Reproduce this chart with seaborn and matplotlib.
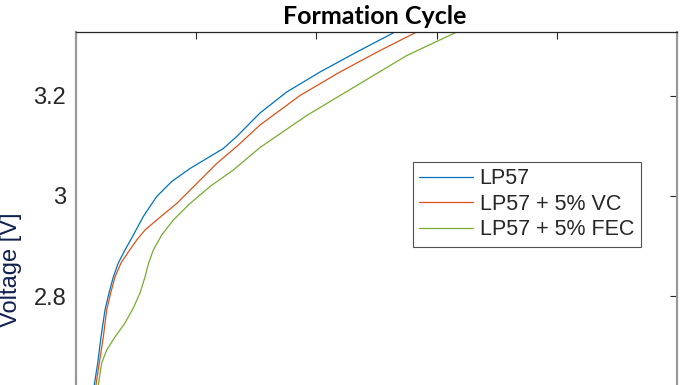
import matplotlib
matplotlib.use("Agg")
import matplotlib.pyplot as plt
import pandas as pd
import seaborn as sns

# Formation cycle voltage curves (x = capacity, arbitrary units 0-250)
lp57_x = [7.61, 9.03, 10.40, 12.06, 13.73, 15.52, 17.60, 20.38, 23.17, 28.0, 33.57, 39.81,
          47.42, 55.74, 61.27, 66.85, 76.54, 87.65, 101.5, 116.8, 132.7]
lp57_v = [2.622, 2.666, 2.718, 2.772, 2.806, 2.838, 2.866, 2.892, 2.916, 2.959, 2.999, 3.029,
          3.055, 3.079, 3.095, 3.119, 3.166, 3.208, 3.248, 3.288, 3.328]

vc_x = [8.32, 9.69, 11.36, 12.77, 14.43, 16.22, 18.72, 21.76, 25.25, 28.70, 33.57, 41.89,
        50.21, 58.53, 66.85, 76.54, 93.18, 109.8, 126.5, 141.7]
vc_v = [2.622, 2.666, 2.718, 2.772, 2.806, 2.838, 2.866, 2.888, 2.912, 2.932, 2.952, 2.985,
        3.025, 3.065, 3.099, 3.142, 3.201, 3.248, 3.291, 3.328]

fec_x = [9.28, 10.69, 12.77, 16.22, 20.38, 23.84, 26.62, 28.70, 30.08, 32.16, 35.65, 40.47,
         47.42, 55.74, 65.43, 76.54, 95.97, 116.8, 137.6, 158.4]
fec_v = [2.622, 2.666, 2.692, 2.718, 2.746, 2.776, 2.806, 2.838, 2.864, 2.892, 2.922, 2.952,
         2.985, 3.019, 3.052, 3.097, 3.161, 3.221, 3.281, 3.328]

labels = ["LP57", "LP57 + 5% VC", "LP57 + 5% FEC"]
colors = ["#0072BD", "#D95319", "#77AC30"]

df = pd.concat([
    pd.DataFrame({"x": lp57_x, "v": lp57_v, "cell": labels[0]}),
    pd.DataFrame({"x": vc_x, "v": vc_v, "cell": labels[1]}),
    pd.DataFrame({"x": fec_x, "v": fec_v, "cell": labels[2]}),
])

sns.set_style("white")
plt.rcParams["font.family"] = ["Liberation Sans", "DejaVu Sans"]

W, H = 696, 385
fig = plt.figure(figsize=(W / 100, H / 100), dpi=100)
# axes is cropped: bottom part lies outside the figure
ymin, ymax = 2.5, 3.328
ax_bottom_px = 96 + (3.2 - ymin) * 500
ax = fig.add_axes([76 / W, (H - ax_bottom_px) / H, (677 - 76) / W, (ax_bottom_px - 32) / H])

sns.lineplot(data=df, x="x", y="v", hue="cell", palette=colors, sort=False,
             estimator=None, linewidth=0.9, ax=ax)

ax.set_xlim(0, 250)
ax.set_ylim(ymin, ymax)
ax.set_xticks([0, 50, 100, 150, 200, 250])
ax.set_yticks([2.8, 3.0, 3.2])
ax.set_yticklabels(["2.8", "3", "3.2"])
ax.tick_params(direction="in", top=True, right=True, length=5, width=0.8,
               colors="#262626", labelsize=17, pad=7, labelbottom=False)
for side in ["left", "right"]:
    ax.spines[side].set_color("#999999")
    ax.spines[side].set_linewidth(1.6)
ax.spines["top"].set_color("#262626")
ax.spines["top"].set_linewidth(0.9)
ax.set_xlabel("")
ax.set_ylabel("")

fig.text(11 / W, 1 - 270 / H, "Voltage [V]", rotation=90, ha="center", va="center",
         fontsize=17, color="#102050")
fig.text(375 / W, 1 - 16 / H, "Formation Cycle", ha="center", va="center",
         fontsize=18, fontweight="bold", family=["Lato", "DejaVu Sans"], color="black")

leg = ax.legend(loc="upper left", bbox_to_anchor=(413 / W, 1 - 162 / H),
                bbox_transform=fig.transFigure, frameon=True, fancybox=False,
                fontsize=15.5, handlelength=2.5, handletextpad=0.3, borderpad=0.3,
                labelspacing=0.2, borderaxespad=0)
leg.get_frame().set_edgecolor("#262626")
leg.get_frame().set_linewidth(0.8)
for line in leg.get_lines():
    line.set_linewidth(0.9)

fig.savefig("out.png", dpi=100)
